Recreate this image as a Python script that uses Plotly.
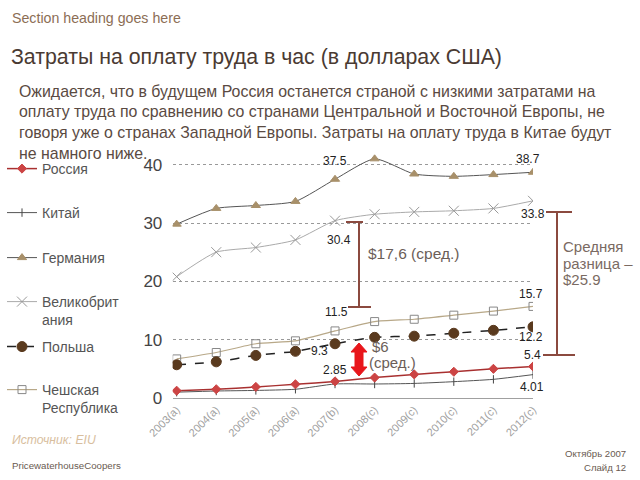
import plotly.graph_objects as go

# ---------------- data ----------------
years = ["2003(a)", "2004(a)", "2005(a)", "2006(a)", "2007(b)",
         "2008(c)", "2009(c)", "2010(c)", "2011(c)", "2012(c)"]
russia = [1.25, 1.5, 1.9, 2.35, 2.85, 3.5, 4.05, 4.5, 5.0, 5.4]
china = [1.0, 1.2, 1.3, 1.5, 2.4, 2.4, 2.5, 2.8, 3.2, 4.01]
germany = [29.8, 32.5, 33.0, 33.7, 37.5, 41.0, 38.4, 38.0, 38.3, 38.7]
uk = [20.8, 25.0, 25.8, 27.1, 30.4, 31.5, 31.9, 32.1, 32.5, 33.8]
poland = [5.7, 6.2, 7.3, 8.0, 9.3, 10.4, 10.6, 11.1, 11.6, 12.2]
czech = [6.7, 7.8, 9.3, 9.8, 11.5, 13.1, 13.5, 14.2, 14.9, 15.7]

names = ["Россия", "Китай", "Германия", "Великобрит<br>ания", "Польша", "Чешская<br>Республика"]
y_ticks = [0, 10, 20, 30, 40]

W, H = 640, 480
def px(x):
    return x / W
def py(y):
    return 1 - y / H

FONT = "Liberation Sans, Arial, sans-serif"

fig = go.Figure()

series = [
    (germany, names[2], "#555555", 1, "solid", "triangle-up", 8, "#A8906A", "legend3"),
    (uk, names[3], "#AAAAAA", 1, "solid", "x-thin-open", 10, "#999999", "legend4"),
    (czech, names[5], "#B8A888", 1.2, "solid", "square-open", 8, "#888888", "legend6"),
    (poland, names[4], "#222222", 1.5, "dash", "circle", 10, "#5A3A1E", "legend5"),
    (china, names[1], "#555555", 1, "solid", "line-ns-open", 6, "#444444", "legend2"),
    (russia, names[0], "#A83030", 1.5, "solid", "diamond", 7, "#CC4444", "legend"),
]

for vals, nm, lc, lw, dash, sym, ms, mc, lg in series:
    fig.add_trace(go.Scatter(
        x=years, y=vals, name=nm, mode="lines+markers",
        line=dict(color=lc, width=lw, dash=dash, shape="spline", smoothing=0.6),
        marker=dict(symbol=sym, size=ms, color=mc, line=dict(color=mc, width=1)),
        legend=lg, showlegend=True,
    ))

# ---------------- legends ----------------
leg_tops = {"legend": 169, "legend2": 213, "legend3": 258, "legend4": 302, "legend5": 347, "legend6": 390}
legend_layouts = {}
for key, yc in leg_tops.items():
    legend_layouts[key] = dict(
        x=px(2), y=py(yc - 16), xanchor="left", yanchor="top",
        font=dict(family=FONT, size=14, color="#555555"),
        bgcolor="rgba(0,0,0,0)", borderwidth=0, itemwidth=30, valign="top",
        itemclick=False,
    )

# ---------------- annotations ----------------
ann = []
def txt(x, y, s, size, color, xanchor="left", italic=False):
    ann.append(dict(x=px(x), y=py(y), xref="paper", yref="paper", text=s, showarrow=False,
                    xanchor=xanchor, yanchor="middle",
                    font=dict(family=FONT, size=size, color=color,
                              style="italic" if italic else "normal")))

txt(10, 18, "Section heading goes here", 14.2, "#8C6E55")
txt(9, 57, "Затраты на оплату труда в час (в долларах США)", 21.3, "#4A3A32")
para = [
    "Ожидается, что в будущем Россия останется страной с низкими затратами на",
    "оплату труда по сравнению со странами Центральной и Восточной Европы, не",
    "говоря уже о странах Западной Европы. Затраты на оплату труда в Китае будут",
    "не намного ниже.",
]
for i, line in enumerate(para):
    txt(17, 91 + i * 20.7, line, 15.9, "#5A4A42")

txt(10, 440, "Источник: EIU", 12.2, "#D8BE9E", italic=True)
txt(10, 465, "PricewaterhouseCoopers", 9.7, "#6A5A50")
txt(628, 453, "Октябрь 2007", 9.6, "#6A5A50", xanchor="right")
txt(628, 467, "Слайд 12", 9.6, "#6A5A50", xanchor="right")

txt(366, 253, "$17,6 (сред.)", 15.5, "#6B5E58")
txt(370, 346, "$6", 15, "#6B5E58")
txt(367, 362, "(сред.)", 15, "#6B5E58")
txt(561, 247, "Средняя", 15, "#7A6A62")
txt(561, 263, "разница –", 15, "#7A6A62")
txt(561, 279, "$25.9", 15, "#7A6A62")

value_labels = [
    (germany, 4, 0, 18), (germany, 9, -5, 13),
    (uk, 4, 4, -19), (uk, 9, 0, -13),
    (czech, 4, 1, 19), (czech, 9, -2, 12),
    (poland, 4, -16, -7), (poland, 9, -2, -10),
    (russia, 4, 0, 11), (russia, 9, -1, 12),
    (china, 9, -1, -12),
]
for arr, i, xs, ys in value_labels:
    ann.append(dict(x=i, y=arr[i], xref="x", yref="y", text=f"{arr[i]:g}", showarrow=False,
                    xshift=xs, yshift=ys,
                    font=dict(family=FONT, size=12, color="#222222")))

# ---------------- shapes (brackets and arrow) ----------------
shapes = []
BR = "#8B4A3F"
def seg(x0, y0, x1, y1, color=BR, width=2):
    shapes.append(dict(type="line", xref="paper", yref="paper",
                       x0=px(x0), y0=py(y0), x1=px(x1), y1=py(y1),
                       line=dict(color=color, width=width)))

seg(359, 222, 359, 307)
seg(346, 222, 363, 222)
seg(348, 307, 371, 307)
seg(557, 212, 557, 355)
seg(546, 212, 572, 212)
seg(543, 355, 575, 355)

cx, top, bot = 359, 343, 376
hw, hl, sw = 8, 9, 4
path = (f"M {px(cx)} {py(top)} L {px(cx+hw)} {py(top+hl)} L {px(cx+sw)} {py(top+hl)} "
        f"L {px(cx+sw)} {py(bot-hl)} L {px(cx+hw)} {py(bot-hl)} L {px(cx)} {py(bot)} "
        f"L {px(cx-hw)} {py(bot-hl)} L {px(cx-sw)} {py(bot-hl)} L {px(cx-sw)} {py(top+hl)} "
        f"L {px(cx-hw)} {py(top+hl)} Z")
shapes.append(dict(type="path", xref="paper", yref="paper", path=path,
                   fillcolor="#E8161B", line=dict(color="#E8161B", width=1)))

fig.update_layout(
    width=W, height=H,
    margin=dict(l=0, r=0, t=0, b=0, autoexpand=False),
    paper_bgcolor="white", plot_bgcolor="white",
    font=dict(family=FONT),
    annotations=ann, shapes=shapes,
    xaxis=dict(domain=[px(172.7), px(533)], range=[-0.1, 9],
               type="category", showgrid=False, zeroline=False,
               showline=True, linecolor="#A0A0A0", linewidth=1,
               ticks="", tickangle=-45, automargin=False,
               tickfont=dict(family=FONT, size=11, color="#A0A0A0")),
    yaxis=dict(domain=[py(398), py(153)], range=[0, 42],
               tickvals=y_ticks, ticktext=[str(v) for v in y_ticks],
               showgrid=True, gridcolor="#999999", griddash="dot", gridwidth=1,
               zeroline=False, showline=False, ticks="outside", ticklen=6,
               tickcolor="rgba(0,0,0,0)", automargin=False,
               tickfont=dict(family=FONT, size=17, color="#444444")),
    showlegend=True,
    **legend_layouts,
)

fig.write_html("out.html", config={"displayModeBar": False},
               post_script="document.body.style.margin='0';document.body.style.padding='0';")
